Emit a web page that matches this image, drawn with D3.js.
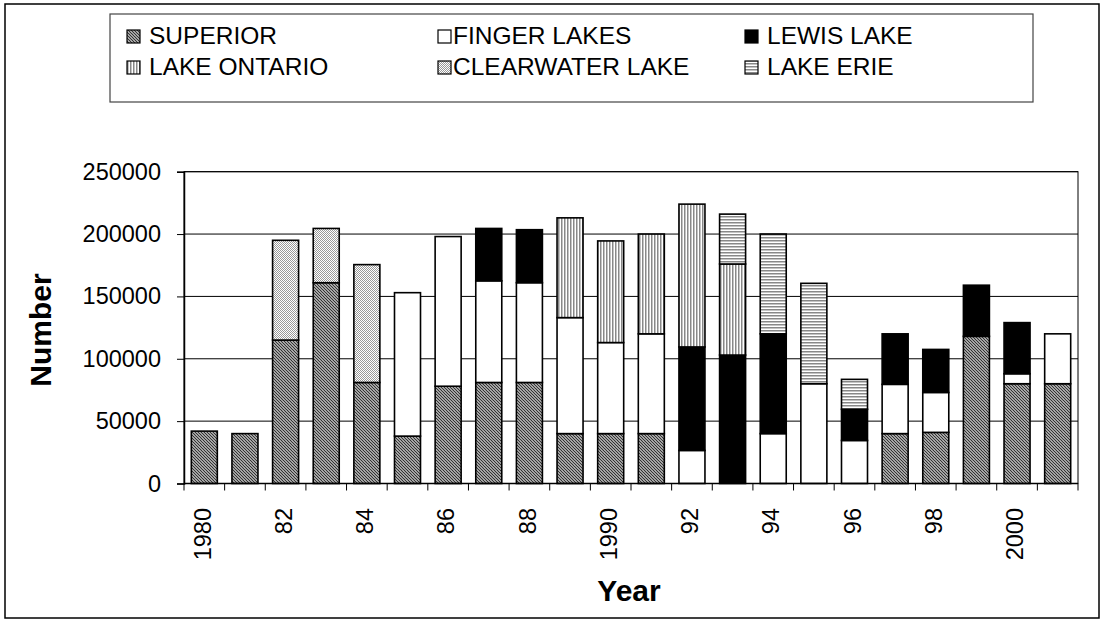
<!DOCTYPE html>
<html>
<head>
<meta charset="utf-8">
<script src="https://cdn.jsdelivr.net/npm/d3@7"></script>
<style>
  html, body { margin: 0; padding: 0; background: #fff; }
  svg { display: block; font-family: "Liberation Sans", Arial, sans-serif; }
</style>
</head>
<body>
<svg id="chart" width="1102" height="621"></svg>
<script>
// ---- data ----
const years = [1980,1981,1982,1983,1984,1985,1986,1987,1988,1989,1990,1991,1992,1993,1994,1995,1996,1997,1998,1999,2000,2001];
const tickLabels = {1980:"1980",1982:"82",1984:"84",1986:"86",1988:"88",1990:"1990",1992:"92",1994:"94",1996:"96",1998:"98",2000:"2000"};
const seriesNames = ["SUPERIOR","FINGER LAKES","LEWIS LAKE","LAKE ONTARIO","CLEARWATER LAKE","LAKE ERIE"];
const superior   = [42000,40000,115000,161000,81000,38000,78000,81000,81000,40000,40000,40000,0,0,0,0,0,40000,41000,118000,80000,80000];
const finger     = [0,0,0,0,0,115000,120000,81500,80000,93000,73000,80000,26500,0,40000,80000,34500,39500,32000,0,8000,40000];
const lewis      = [0,0,0,0,0,0,0,42000,42500,0,0,0,83000,103000,80000,0,25000,40500,34500,41000,41000,0];
const ontario    = [0,0,0,0,0,0,0,0,0,80000,81500,80000,114500,73000,0,0,0,0,0,0,0,0];
const clearwater = [0,0,80000,43500,94500,0,0,0,0,0,0,0,0,0,0,0,0,0,0,0,0,0];
const erie       = [0,0,0,0,0,0,0,0,0,0,0,0,0,40000,80000,80500,24000,0,0,0,0,0];
const yTicks = [0,50000,100000,150000,200000,250000];

const seriesArrays = [superior, finger, lewis, ontario, clearwater, erie];
const table = years.map((y,i) => {
  const row = {year: y};
  seriesNames.forEach((s,k) => row[s] = seriesArrays[k][i]);
  return row;
});

const svg = d3.select("#chart");
const defs = svg.append("defs");

// patterns
function pat(id, w, h, draw) {
  const p = defs.append("pattern").attr("id", id).attr("patternUnits","userSpaceOnUse").attr("width", w).attr("height", h);
  p.append("rect").attr("width", w).attr("height", h).attr("fill", "#fff");
  draw(p);
}
pat("pSup", 3, 3, p => p.append("path").attr("d","M0,0L3,3M-1,2L1,4M2,-1L4,1").attr("stroke","#333").attr("stroke-width",1.3));
pat("pOnt", 3, 3, p => p.append("rect").attr("x",0).attr("y",0).attr("width",1.5).attr("height",3).attr("fill","#888"));
pat("pErie", 3, 3, p => p.append("rect").attr("x",0).attr("y",0).attr("width",3).attr("height",1.5).attr("fill","#888"));
pat("pClear", 2, 2, p => { p.append("rect").attr("x",0).attr("y",0).attr("width",1).attr("height",1).attr("fill","#999");
                          p.append("rect").attr("x",1).attr("y",1).attr("width",1).attr("height",1).attr("fill","#999"); });
const fills = {
  "SUPERIOR": "url(#pSup)",
  "FINGER LAKES": "#fff",
  "LEWIS LAKE": "#000",
  "LAKE ONTARIO": "url(#pOnt)",
  "CLEARWATER LAKE": "url(#pClear)",
  "LAKE ERIE": "url(#pErie)"
};

// outer border
svg.append("rect").attr("x",5).attr("y",4).attr("width",1094).attr("height",614)
  .attr("fill","none").attr("stroke","#000").attr("stroke-width",1.5);

// scales
const plotL = 184, plotR = 1078, plotT = 171.7, plotB = 483.5;
const x = d3.scaleBand().domain(years).range([plotL, plotR]).paddingInner(0.36).paddingOuter(0.18);
const y = d3.scaleLinear().domain([0, 250000]).range([plotB, plotT]);

// gridlines
svg.append("g").selectAll("line").data(yTicks.filter(d => d > 0)).join("line")
  .attr("x1", plotL).attr("x2", plotR).attr("y1", d => y(d)).attr("y2", d => y(d))
  .attr("stroke", "#000").attr("stroke-width", 1);

// plot frame
svg.append("rect").attr("x", plotL).attr("y", plotT).attr("width", plotR-plotL).attr("height", plotB-plotT)
  .attr("fill","none").attr("stroke","#000").attr("stroke-width",1);

// stacked bars
const stack = d3.stack().keys(seriesNames)(table);
svg.append("g").selectAll("g").data(stack).join("g")
  .attr("fill", d => fills[d.key])
  .selectAll("rect").data(d => d.filter(s => s[1] - s[0] > 0)).join("rect")
  .attr("x", d => x(d.data.year)).attr("width", x.bandwidth())
  .attr("y", d => y(d[1])).attr("height", d => y(d[0]) - y(d[1]))
  .attr("stroke", "#000").attr("stroke-width", 1.6);

// y axis
const yAxis = d3.axisLeft(y).tickValues(yTicks).tickSize(7).tickPadding(16).tickFormat(d3.format("d"));
const ya = svg.append("g").attr("transform", `translate(${plotL},0)`).call(yAxis);
ya.select(".domain").attr("stroke","#000").attr("stroke-width",1.5);
ya.selectAll(".tick line").attr("stroke","#000");
ya.selectAll(".tick text").attr("font-size", 23.5).attr("fill","#000")
  .attr("font-family", "'Liberation Sans', Arial, sans-serif");

// x axis baseline and ticks at band boundaries
const gap = (x.step() - x.bandwidth()) / 2;
const bounds = years.map(d => x(d) - gap).concat([x(years[years.length-1]) + x.bandwidth() + gap]);
svg.append("line").attr("x1", plotL).attr("x2", plotR).attr("y1", plotB).attr("y2", plotB)
  .attr("stroke","#000").attr("stroke-width",1.5);
svg.append("g").selectAll("line").data(bounds).join("line")
  .attr("x1", d => d).attr("x2", d => d).attr("y1", plotB).attr("y2", plotB + 7)
  .attr("stroke","#000").attr("stroke-width",1);
svg.append("g").selectAll("text").data(years.filter(d => tickLabels[d])).join("text")
  .attr("transform", d => `translate(${x(d) + x.bandwidth()/2 - 2},508) rotate(-90)`)
  .attr("text-anchor","end").attr("dy","0.35em")
  .attr("font-size", 23.5).attr("fill","#000")
  .text(d => tickLabels[d]);

// axis titles
svg.append("text").attr("x", 629).attr("y", 601).attr("text-anchor","middle")
  .attr("font-size", 30).attr("font-weight","bold").text("Year");
svg.append("text").attr("transform","translate(40,330) rotate(-90)").attr("text-anchor","middle")
  .attr("dy","0.35em").attr("font-size", 30).attr("font-weight","bold").text("Number");

// legend
svg.append("rect").attr("x",110).attr("y",14).attr("width",923).attr("height",88)
  .attr("fill","#fff").attr("stroke","#444").attr("stroke-width",1.2);
const colX = [127, 438, 745];
const rowY = [44, 75];
const lg = svg.append("g").selectAll("g").data(seriesNames).join("g")
  .attr("transform", (d,i) => `translate(${colX[i%3]},${rowY[Math.floor(i/3)]})`);
lg.append("rect").attr("x",0).attr("y",-14).attr("width",13).attr("height",13)
  .attr("fill", d => fills[d]).attr("stroke","#000").attr("stroke-width",1.2);
lg.append("text").attr("x", (d,i) => i%3 === 1 ? 15 : 22).attr("y",0)
  .attr("font-size", 24.5).attr("fill","#000").text(d => d);
</script>
</body>
</html>
